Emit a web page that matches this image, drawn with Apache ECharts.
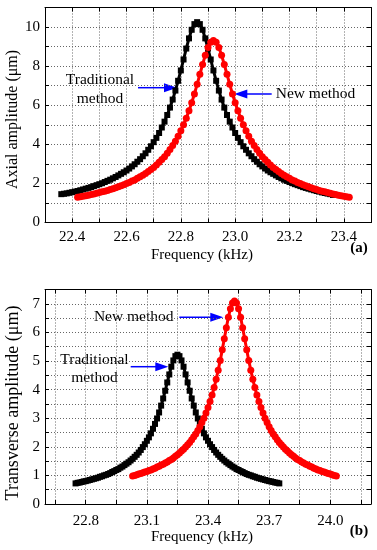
<!DOCTYPE html>
<html><head><meta charset="utf-8">
<script src="https://cdn.jsdelivr.net/npm/echarts@6/dist/echarts.min.js"></script>
<style>html,body{margin:0;padding:0;background:#fff}#c{width:377px;height:550px}</style>
</head><body><div id="c"></div>
<script>
// ---------- (a) Axial amplitude ----------
const axialTradX = [22.36,22.37,22.38,22.39,22.40,22.41,22.42,22.43,22.44,22.45,22.46,22.47,22.48,22.49,22.50,22.51,22.52,22.53,22.54,22.55,22.56,22.57,22.58,22.59,22.60,22.61,22.62,22.63,22.64,22.65,22.66,22.67,22.68,22.69,22.70,22.71,22.72,22.73,22.74,22.75,22.76,22.77,22.78,22.79,22.80,22.81,22.82,22.83,22.84,22.85,22.86,22.87,22.88,22.89,22.90,22.91,22.92,22.93,22.94,22.95,22.96,22.97,22.98,22.99,23.00,23.01,23.02,23.03,23.04,23.05,23.06,23.07,23.08,23.09,23.10,23.11,23.12,23.13,23.14,23.15,23.16,23.17,23.18,23.19,23.20,23.21,23.22,23.23,23.24,23.25,23.26,23.27,23.28,23.29,23.30,23.31,23.32,23.33,23.34,23.35,23.36];
const axialTradY = [1.45,1.47,1.49,1.52,1.55,1.58,1.61,1.65,1.69,1.73,1.77,1.81,1.86,1.91,1.96,2.01,2.07,2.13,2.19,2.26,2.33,2.41,2.49,2.57,2.66,2.76,2.87,2.98,3.11,3.24,3.39,3.54,3.72,3.90,4.11,4.33,4.58,4.86,5.16,5.50,5.88,6.29,6.75,7.25,7.78,8.34,8.90,9.42,9.86,10.15,10.25,10.15,9.86,9.42,8.90,8.34,7.78,7.25,6.75,6.29,5.88,5.50,5.16,4.86,4.58,4.33,4.11,3.90,3.72,3.54,3.39,3.24,3.11,2.98,2.87,2.76,2.66,2.57,2.49,2.41,2.33,2.26,2.19,2.13,2.07,2.01,1.96,1.91,1.86,1.81,1.77,1.73,1.69,1.65,1.61,1.58,1.54,1.51,1.48,1.45,1.41];
const axialNewX = [22.42,22.43,22.44,22.45,22.46,22.47,22.48,22.49,22.50,22.51,22.52,22.53,22.54,22.55,22.56,22.57,22.58,22.59,22.60,22.61,22.62,22.63,22.64,22.65,22.66,22.67,22.68,22.69,22.70,22.71,22.72,22.73,22.74,22.75,22.76,22.77,22.78,22.79,22.80,22.81,22.82,22.83,22.84,22.85,22.86,22.87,22.88,22.89,22.90,22.91,22.92,22.93,22.94,22.95,22.96,22.97,22.98,22.99,23.00,23.01,23.02,23.03,23.04,23.05,23.06,23.07,23.08,23.09,23.10,23.11,23.12,23.13,23.14,23.15,23.16,23.17,23.18,23.19,23.20,23.21,23.22,23.23,23.24,23.25,23.26,23.27,23.28,23.29,23.30,23.31,23.32,23.33,23.34,23.35,23.36,23.37,23.38,23.39,23.40,23.41,23.42];
const axialNewY = [1.29,1.32,1.34,1.37,1.40,1.43,1.46,1.50,1.53,1.57,1.60,1.64,1.69,1.73,1.78,1.83,1.88,1.93,1.99,2.05,2.12,2.18,2.26,2.34,2.42,2.51,2.61,2.71,2.82,2.94,3.08,3.22,3.37,3.54,3.73,3.94,4.16,4.41,4.69,5.00,5.34,5.72,6.13,6.58,7.07,7.58,8.08,8.56,8.95,9.22,9.31,9.22,8.95,8.56,8.08,7.58,7.07,6.58,6.13,5.72,5.34,5.00,4.69,4.41,4.16,3.94,3.73,3.54,3.37,3.22,3.08,2.94,2.82,2.71,2.61,2.51,2.42,2.34,2.26,2.18,2.12,2.05,1.99,1.93,1.88,1.83,1.78,1.73,1.69,1.64,1.60,1.57,1.53,1.50,1.46,1.43,1.40,1.37,1.34,1.32,1.29];
const axialXTicks = [22.3,22.4,22.5,22.6,22.7,22.8,22.9,23.0,23.1,23.2,23.3,23.4,23.5];
const axialXLabels = [22.4,22.6,22.8,23.0,23.2,23.4];
const axialYTicks = [0,1,2,3,4,5,6,7,8,9,10,11];
const axialYLabels = [0,2,4,6,8,10];

// ---------- (b) Transverse amplitude ----------
const transTradX = [22.75,22.76,22.77,22.78,22.79,22.80,22.81,22.82,22.83,22.84,22.85,22.86,22.87,22.88,22.89,22.90,22.91,22.92,22.93,22.94,22.95,22.96,22.97,22.98,22.99,23.00,23.01,23.02,23.03,23.04,23.05,23.06,23.07,23.08,23.09,23.10,23.11,23.12,23.13,23.14,23.15,23.16,23.17,23.18,23.19,23.20,23.21,23.22,23.23,23.24,23.25,23.26,23.27,23.28,23.29,23.30,23.31,23.32,23.33,23.34,23.35,23.36,23.37,23.38,23.39,23.40,23.41,23.42,23.43,23.44,23.45,23.46,23.47,23.48,23.49,23.50,23.51,23.52,23.53,23.54,23.55,23.56,23.57,23.58,23.59,23.60,23.61,23.62,23.63,23.64,23.65,23.66,23.67,23.68,23.69,23.70,23.71,23.72,23.73,23.74,23.75];
const transTradY = [0.72,0.74,0.75,0.77,0.79,0.80,0.82,0.84,0.86,0.88,0.90,0.92,0.95,0.97,1.00,1.02,1.05,1.08,1.12,1.15,1.19,1.22,1.27,1.31,1.36,1.41,1.46,1.52,1.58,1.65,1.72,1.80,1.89,1.99,2.09,2.21,2.33,2.47,2.63,2.80,2.99,3.20,3.44,3.69,3.96,4.25,4.53,4.80,5.02,5.17,5.22,5.17,5.02,4.80,4.53,4.25,3.96,3.69,3.44,3.20,2.99,2.80,2.63,2.47,2.33,2.21,2.09,1.99,1.89,1.80,1.72,1.65,1.58,1.52,1.46,1.41,1.36,1.31,1.27,1.22,1.19,1.15,1.12,1.08,1.05,1.02,1.00,0.97,0.95,0.92,0.90,0.88,0.86,0.84,0.82,0.80,0.79,0.77,0.75,0.74,0.72];
const transNewX = [23.03,23.04,23.05,23.06,23.07,23.08,23.09,23.10,23.11,23.12,23.13,23.14,23.15,23.16,23.17,23.18,23.19,23.20,23.21,23.22,23.23,23.24,23.25,23.26,23.27,23.28,23.29,23.30,23.31,23.32,23.33,23.34,23.35,23.36,23.37,23.38,23.39,23.40,23.41,23.42,23.43,23.44,23.45,23.46,23.47,23.48,23.49,23.50,23.51,23.52,23.53,23.54,23.55,23.56,23.57,23.58,23.59,23.60,23.61,23.62,23.63,23.64,23.65,23.66,23.67,23.68,23.69,23.70,23.71,23.72,23.73,23.74,23.75,23.76,23.77,23.78,23.79,23.80,23.81,23.82,23.83,23.84,23.85,23.86,23.87,23.88,23.89,23.90,23.91,23.92,23.93,23.94,23.95,23.96,23.97,23.98,23.99,24.00,24.01,24.02,24.03];
const transNewY = [0.98,1.00,1.02,1.05,1.07,1.09,1.12,1.14,1.17,1.19,1.22,1.25,1.29,1.32,1.36,1.39,1.43,1.47,1.52,1.56,1.61,1.67,1.72,1.78,1.85,1.91,1.99,2.07,2.15,2.25,2.35,2.45,2.57,2.70,2.85,3.00,3.18,3.37,3.58,3.81,4.07,4.36,4.68,5.02,5.39,5.78,6.16,6.53,6.83,7.03,7.10,7.03,6.83,6.53,6.16,5.78,5.39,5.02,4.68,4.36,4.07,3.81,3.58,3.37,3.18,3.00,2.85,2.70,2.57,2.45,2.35,2.25,2.15,2.07,1.99,1.91,1.85,1.78,1.72,1.67,1.61,1.56,1.52,1.47,1.43,1.39,1.36,1.32,1.29,1.25,1.22,1.19,1.17,1.14,1.12,1.09,1.07,1.05,1.02,1.00,0.98];
const transXTicks = [22.65,22.8,22.95,23.1,23.25,23.4,23.55,23.7,23.85,24.0,24.15];
const transXLabels = [22.8,23.1,23.4,23.7,24.0];
const transYTicks = [0,0.5,1,1.5,2,2.5,3,3.5,4,4.5,5,5.5,6,6.5,7,7.5];
const transYLabels = [0,1,2,3,4,5,6,7];

const FONT = '"Liberation Serif", "Times New Roman", serif';
const zip = (xs, ys) => xs.map((x, i) => [x, ys[i]]);

function xAxisPair(gi, min, max, ticks, labels, margin) {
  const line = {show: true, onZero: false, lineStyle: {color: '#000', width: 1}};
  return [
    {type: 'value', gridIndex: gi, position: 'bottom', min, max,
     axisLine: line,
     axisTick: {show: true, inside: true, length: 4, customValues: ticks, lineStyle: {color: '#000'}},
     axisLabel: {customValues: labels, formatter: v => Number(v).toFixed(1), color: '#000', fontFamily: FONT, fontSize: 15, margin},
     splitLine: {show: true, lineStyle: {color: '#666', type: [1, 2], width: 1}}},
    {type: 'value', gridIndex: gi, position: 'top', min, max,
     axisLine: line,
     axisTick: {show: true, inside: true, length: 4, customValues: ticks, lineStyle: {color: '#000'}},
     axisLabel: {show: false}, splitLine: {show: false}}
  ];
}
function yAxisPair(gi, min, max, ticks, labels) {
  const line = {show: true, onZero: false, lineStyle: {color: '#000', width: 1}};
  return [
    {type: 'value', gridIndex: gi, position: 'left', min, max,
     axisLine: line,
     axisTick: {show: true, inside: true, length: 4, customValues: ticks, lineStyle: {color: '#000'}},
     axisLabel: {customValues: labels, formatter: v => String(v), color: '#000', fontFamily: FONT, fontSize: 15, margin: 5},
     splitLine: {show: true, lineStyle: {color: '#666', type: [1, 2], width: 1}}},
    {type: 'value', gridIndex: gi, position: 'right', min, max,
     axisLine: line,
     axisTick: {show: true, inside: true, length: 4, customValues: ticks, lineStyle: {color: '#000'}},
     axisLabel: {show: false}, splitLine: {show: false}}
  ];
}
function series(name, xi, yi, data, color, symbol, size) {
  return {name, type: 'line', xAxisIndex: xi, yAxisIndex: yi, data,
    symbol, symbolSize: size, showAllSymbol: true, clip: false,
    itemStyle: {color}, lineStyle: {color, width: 3}, emphasis: {disabled: true}};
}

function txt(x, y, text, size, opts) {
  return Object.assign({type: 'text', x, y, silent: true,
    style: {text, font: (size || 15) + 'px ' + FONT, fill: '#000', align: 'center', verticalAlign: 'middle'}}, opts || {});
}
function arrow(x1, x2, y) {
  const d = x2 > x1 ? 1 : -1;
  return [
    {type: 'line', silent: true, shape: {x1, y1: y, x2: x2 - d * 10, y2: y}, style: {stroke: '#0000ff', lineWidth: 1.5}},
    {type: 'polygon', silent: true, shape: {points: [[x2, y], [x2 - d * 13, y - 4.5], [x2 - d * 13, y + 4.5]]}, style: {fill: '#0000ff'}}
  ];
}

const chart = echarts.init(document.getElementById('c'), null, {renderer: 'canvas'});
chart.setOption({
  animation: false,
  backgroundColor: '#fff',
  grid: [
    {left: 45, top: 7.5, width: 326, height: 215},
    {left: 45, top: 289.5, width: 326, height: 214.5}
  ],
  xAxis: [].concat(xAxisPair(0, 22.3, 23.5, axialXTicks, axialXLabels, 7), xAxisPair(1, 22.6, 24.2, transXTicks, transXLabels, 9.5)),
  yAxis: [].concat(yAxisPair(0, 0, 11, axialYTicks, axialYLabels), yAxisPair(1, 0, 7.5, transYTicks, transYLabels)),
  series: [
    series('Traditional method (a)', 0, 0, zip(axialTradX, axialTradY), '#000', 'rect', 6),
    series('New method (a)', 0, 0, zip(axialNewX, axialNewY), '#ff0000', 'circle', 7),
    series('Traditional method (b)', 2, 2, zip(transTradX, transTradY), '#000', 'rect', 6),
    series('New method (b)', 2, 2, zip(transNewX, transNewY), '#ff0000', 'circle', 7)
  ],
  graphic: [].concat(
    [txt(13, 119.5, 'Axial amplitude (μm)', 16, {rotation: Math.PI / 2}),
     txt(13, 403, 'Transverse amplitude (μm)', 18, {rotation: Math.PI / 2}),
     txt(202, 255, 'Frequency (kHz)', 15),
     txt(202, 537.5, 'Frequency (kHz)', 15),
     {type: 'text', x: 359, y: 248, silent: true, style: {text: '(a)', font: 'bold 15px ' + FONT, fill: '#000', align: 'center', verticalAlign: 'middle'}},
     {type: 'text', x: 359, y: 531.5, silent: true, style: {text: '(b)', font: 'bold 15px ' + FONT, fill: '#000', align: 'center', verticalAlign: 'middle'}},
     txt(100, 80, 'Traditional', 15.5), txt(100, 98.5, 'method', 15.5),
     txt(315.5, 93.5, 'New method', 15.5),
     txt(133.7, 317.3, 'New method', 15.5),
     txt(94.5, 359.5, 'Traditional', 15.5), txt(94.5, 378, 'method', 15.5)],
    arrow(138, 177, 87.7), arrow(271.7, 234.3, 94),
    arrow(179.3, 223.3, 317.3), arrow(130.7, 168.3, 366.7)
  )
});
</script>
</body></html>
